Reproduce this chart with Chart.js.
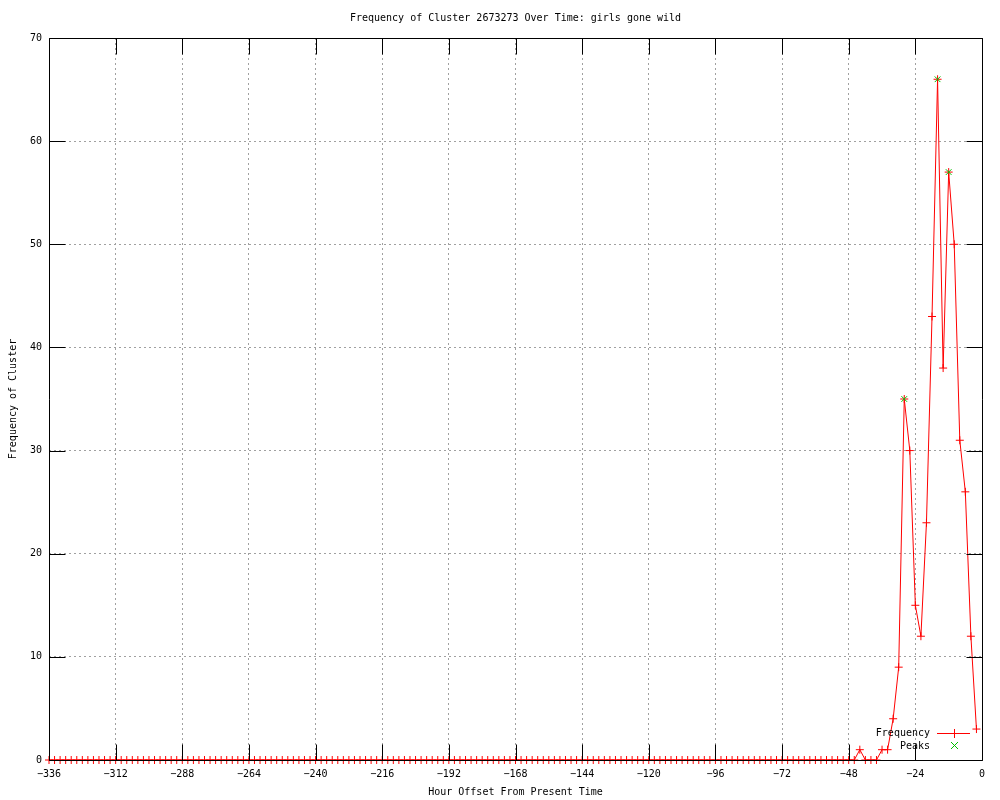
<!DOCTYPE html>
<html>
<head>
<meta charset="utf-8">
<script src="https://cdn.jsdelivr.net/npm/chart.js@4.4.0/dist/chart.umd.min.js"></script>
<style>
html, body { margin: 0; padding: 0; background: #fff; }
</style>
</head>
<body>
<canvas id="freq_chart" width="1000" height="800"></canvas>
<script>
const ctx_freq = 'freq_chart';

// hour offsets (one sample every 2 hours)
var hours = [
    -336, -334, -332, -330, -328, -326, -324, -322, -320, -318, -316, -314, -312, -310, -308, -306, -304, -302, -300, -298,
    -296, -294, -292, -290, -288, -286, -284, -282, -280, -278, -276, -274, -272, -270, -268, -266, -264, -262, -260, -258,
    -256, -254, -252, -250, -248, -246, -244, -242, -240, -238, -236, -234, -232, -230, -228, -226, -224, -222, -220, -218,
    -216, -214, -212, -210, -208, -206, -204, -202, -200, -198, -196, -194, -192, -190, -188, -186, -184, -182, -180, -178,
    -176, -174, -172, -170, -168, -166, -164, -162, -160, -158, -156, -154, -152, -150, -148, -146, -144, -142, -140, -138,
    -136, -134, -132, -130, -128, -126, -124, -122, -120, -118, -116, -114, -112, -110, -108, -106, -104, -102, -100, -98,
    -96, -94, -92, -90, -88, -86, -84, -82, -80, -78, -76, -74, -72, -70, -68, -66, -64, -62, -60, -58,
    -56, -54, -52, -50, -48, -46, -44, -42, -40, -38, -36, -34, -32, -30, -28, -26, -24, -22, -20, -18,
    -16, -14, -12, -10, -8, -6, -4, -2
];

var counts = [
    0, 0, 0, 0, 0, 0, 0, 0, 0, 0, 0, 0, 0, 0, 0, 0, 0, 0, 0, 0,
    0, 0, 0, 0, 0, 0, 0, 0, 0, 0, 0, 0, 0, 0, 0, 0, 0, 0, 0, 0,
    0, 0, 0, 0, 0, 0, 0, 0, 0, 0, 0, 0, 0, 0, 0, 0, 0, 0, 0, 0,
    0, 0, 0, 0, 0, 0, 0, 0, 0, 0, 0, 0, 0, 0, 0, 0, 0, 0, 0, 0,
    0, 0, 0, 0, 0, 0, 0, 0, 0, 0, 0, 0, 0, 0, 0, 0, 0, 0, 0, 0,
    0, 0, 0, 0, 0, 0, 0, 0, 0, 0, 0, 0, 0, 0, 0, 0, 0, 0, 0, 0,
    0, 0, 0, 0, 0, 0, 0, 0, 0, 0, 0, 0, 0, 0, 0, 0, 0, 0, 0, 0,
    0, 0, 0, 0, 0, 0, 1, 0, 0, 0, 1, 1, 4, 9, 35, 30, 15, 12, 23, 43,
    66, 38, 57, 50, 31, 26, 12, 3
];

var peakHours = [-28, -16, -12];
var peakCounts = [35, 66, 57];

var xTicks = [-336, -312, -288, -264, -240, -216, -192, -168, -144, -120, -96, -72, -48, -24, 0];
var yTicks = [0, 10, 20, 30, 40, 50, 60, 70];

const chartTitle = 'Frequency of Cluster 2673273 Over Time: girls gone wild';
const monoFont = { family: "'DejaVu Sans Mono', monospace", size: 10 };
const red = '#ff0000';
const green = '#00c000';

// gnuplot style title, frame, inward ticks and key
const gnuFrame = {
    id: 'gnuFrame',
    afterDatasetsDraw(chart) {
        const c = chart.ctx;
        const a = chart.chartArea;
        const sx = chart.scales.x;
        const sy = chart.scales.y;
        const L = Math.round(a.left) + 0.5, R = Math.round(a.right) + 0.5;
        const T = Math.round(a.top) + 0.5, B = Math.round(a.bottom) + 0.5;
        const tl = 16;
        c.save();
        c.setLineDash([]);
        c.strokeStyle = '#000';
        c.lineWidth = 1;
        c.beginPath();
        c.rect(L, T, R - L, B - T);
        xTicks.forEach(v => {
            const px = Math.round(sx.getPixelForValue(v)) + 0.5;
            c.moveTo(px, B); c.lineTo(px, B - tl);
            c.moveTo(px, T); c.lineTo(px, T + tl);
        });
        yTicks.forEach(v => {
            const py = Math.round(sy.getPixelForValue(v)) + 0.5;
            c.moveTo(L, py); c.lineTo(L + tl, py);
            c.moveTo(R, py); c.lineTo(R - tl, py);
        });
        c.stroke();

        c.font = "10px 'DejaVu Sans Mono', monospace";
        c.fillStyle = '#000';
        c.textBaseline = 'middle';
        c.textAlign = 'center';
        c.fillText(chartTitle, (a.left + a.right) / 2, 18);

        // key
        c.textAlign = 'right';
        c.fillText('Frequency', 930, 733);
        c.fillText('Peaks', 930, 746);
        c.strokeStyle = red;
        c.beginPath();
        c.moveTo(937, 733.5); c.lineTo(970, 733.5);
        c.moveTo(954.5, 729); c.lineTo(954.5, 738);
        c.stroke();
        c.strokeStyle = green;
        c.beginPath();
        c.moveTo(951, 742); c.lineTo(958, 749);
        c.moveTo(958, 742); c.lineTo(951, 749);
        c.stroke();
        c.restore();
    }
};

const freq_chart = new Chart(ctx_freq, {
    type: 'line',
    data: {
        datasets: [{
            label: 'Peaks',
            data: peakHours.map((h, i) => ({ x: h, y: peakCounts[i] })),
            showLine: false,
            borderColor: green,
            backgroundColor: green,
            pointStyle: 'crossRot',
            pointRadius: 4,
            pointBorderWidth: 1,
            clip: false
        }, {
            label: 'Frequency',
            data: hours.map((h, i) => ({ x: h, y: counts[i] })),
            borderColor: red,
            backgroundColor: red,
            borderWidth: 1,
            tension: 0,
            pointStyle: 'cross',
            pointRadius: 4,
            pointBorderWidth: 1,
            clip: false
        }]
    },
    options: {
        responsive: false,
        animation: false,
        devicePixelRatio: 1,
        layout: { padding: { left: 0, right: 18, top: 38, bottom: 0 } },
        events: [],
        plugins: {
            legend: { display: false },
            tooltip: { enabled: false },
            title: { display: false }
        },
        scales: {
            x: {
                type: 'linear',
                min: -336,
                max: 0,
                afterFit: s => { s.height = 40; },
                ticks: {
                    stepSize: 24,
                    autoSkip: false,
                    maxRotation: 0,
                    padding: 8,
                    color: '#000',
                    font: monoFont,
                    callback: v => String(v).replace('-', '\u2212')
                },
                grid: { color: '#a0a0a0', lineWidth: 1, drawTicks: false },
                border: { display: false, dash: [2, 3] },
                title: {
                    display: true,
                    text: 'Hour Offset From Present Time',
                    color: '#000',
                    font: monoFont,
                    padding: { top: 0, bottom: 2 }
                }
            },
            y: {
                min: 0,
                max: 70,
                afterFit: s => { s.width = 49; },
                ticks: {
                    stepSize: 10,
                    padding: 7,
                    color: '#000',
                    font: monoFont
                },
                grid: { color: '#a0a0a0', lineWidth: 1, drawTicks: false },
                border: { display: false, dash: [2, 3] },
                title: {
                    display: true,
                    text: 'Frequency of Cluster',
                    color: '#000',
                    font: monoFont,
                    padding: { top: 7, bottom: 0 }
                }
            }
        }
    },
    plugins: [gnuFrame]
});
</script>
</body>
</html>
